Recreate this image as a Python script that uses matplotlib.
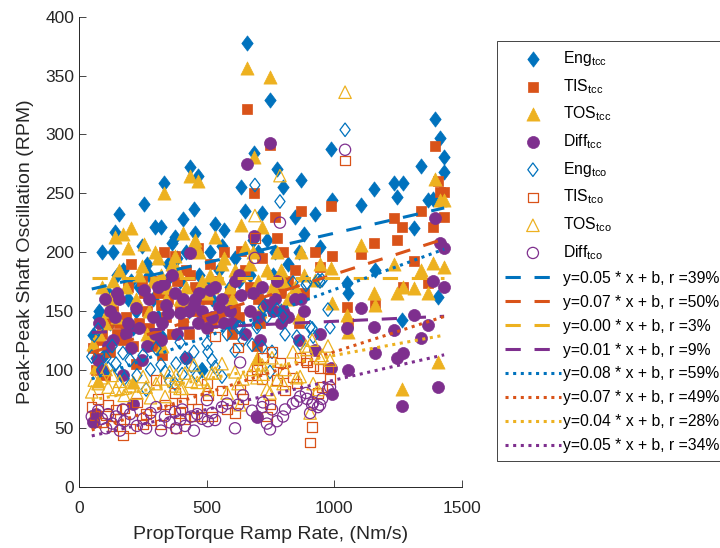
import numpy as np
import matplotlib
matplotlib.use("Agg")
import matplotlib.pyplot as plt
from matplotlib.path import Path

plt.rcParams['font.family'] = ['Liberation Sans', 'DejaVu Sans']
plt.rcParams['mathtext.fontset'] = 'custom'
plt.rcParams['mathtext.rm'] = 'Liberation Sans'
plt.rcParams['mathtext.it'] = 'Liberation Sans:italic'

# torque converter closed (tcc) tests
x_tcc = [55, 65, 75, 90, 100, 112, 133, 140, 157, 173, 190, 204, 212, 225, 245, 255,
         275, 298, 321, 325, 333, 350, 365, 376, 395, 408, 420, 435, 450, 454, 466, 482,
         500, 515, 533, 550, 568, 590, 610, 635, 650, 658, 670, 685, 697, 700, 717, 735,
         748, 768, 775, 800, 820, 845, 860, 870, 880, 925, 945, 985, 990, 1050, 1055, 1105,
         1155, 1160, 1235, 1245, 1265, 1270, 1310, 1340, 1365, 1385, 1395, 1405, 1415, 1428, 1430,
         80, 120, 150, 185, 235, 265, 290, 310, 340, 385, 430, 470, 520, 560, 600, 625,
         680, 710, 760, 790]
eng_tcc = [129, 110, 145, 200, 113, 165, 200, 217, 232, 185, 160, 175, 135, 150, 205, 241,
           180, 221, 221, 128, 259, 190, 208, 213, 175, 228, 200, 272, 237, 216, 265, 100,
           170, 200, 224, 185, 219, 170, 195, 255, 235, 378, 180, 284, 140, 200, 233, 210,
           329, 200, 271, 255, 190, 230, 200, 261, 215, 232, 204, 288, 244, 174, 165, 240,
           254, 185, 259, 247, 142, 259, 220, 273, 244, 245, 313, 162, 297, 281, 268,
           150, 140, 180, 135, 170, 190, 160, 145, 175, 195, 150, 180, 160, 205, 150, 175,
           210, 160, 180, 150]
tis_tcc = [118, 100, 110, 130, 95, 140, 150, 160, 140, 125, 170, 190, 120, 105, 175, 165,
           135, 175, 155, 112, 200, 160, 130, 197, 150, 140, 185, 180, 150, 170, 203, 145,
           160, 190, 175, 145, 200, 165, 150, 201, 185, 322, 170, 250, 120, 160, 195, 155,
           291, 230, 212, 200, 175, 185, 140, 235, 165, 200, 187, 239, 197, 153, 140, 198,
           208, 155, 229, 210, 221, 170, 192, 235, 174, 221, 290, 260, 251, 230, 251,
           125, 115, 130, 145, 140, 150, 120, 165, 145, 175, 130, 160, 140, 150, 130, 145,
           165, 140, 150, 165]
tos_tcc = [122, 102, 90, 170, 140, 150, 175, 213, 185, 215, 203, 220, 89, 160, 188, 207,
           150, 200, 180, 120, 250, 170, 190, 197, 160, 216, 170, 265, 208, 210, 260, 175,
           165, 180, 213, 178, 195, 170, 185, 223, 204, 357, 190, 281, 110, 175, 221, 185,
           349, 175, 200, 175, 160, 170, 145, 200, 180, 176, 190, 186, 157, 146, 132, 206,
           165, 155, 190, 165, 83, 170, 169, 185, 165, 191, 262, 106, 244, 244, 187,
           130, 160, 145, 170, 180, 130, 175, 195, 160, 185, 155, 200, 170, 190, 160, 180,
           200, 150, 170, 185]
diff_tcc = [55, 62, 108, 100, 160, 120, 125, 145, 160, 95, 140, 118, 71, 152, 108, 168,
            160, 130, 125, 140, 173, 148, 180, 165, 148, 160, 110, 199, 155, 160, 140, 150,
            135, 168, 170, 153, 140, 150, 175, 163, 130, 275, 150, 214, 60, 145, 170, 155,
            293, 160, 175, 150, 145, 160, 125, 160, 150, 117, 130, 101, 79, 135, 100, 152,
            136, 114, 134, 110, 69, 114, 146, 127, 138, 175, 229, 85, 208, 203, 170,
            140, 150, 165, 130, 135, 120, 145, 170, 155, 130, 150, 165, 145, 160, 140, 180,
            165, 125, 150, 140]

# torque converter open (tco) tests
x_tco = [50, 60, 75, 90, 106, 114, 130, 145, 160, 172, 177, 200, 227, 251, 263, 280,
         302, 321, 337, 355, 376, 380, 396, 404, 415, 440, 450, 463, 482, 501, 505, 521,
         533, 560, 580, 611, 623, 631, 642, 678, 689, 697, 717, 721, 736, 748, 756, 775,
         787, 799, 807, 838, 853, 866, 889, 893, 905, 913, 917, 936, 944, 952, 975, 983, 1042]
eng_tco = [111, 129, 134, 100, 110, 101, 120, 105, 98, 114, 92, 108, 95, 112, 83, 100,
           118, 104, 98, 90, 88, 105, 123, 96, 110, 103, 115, 95, 100, 122, 115, 108,
           102, 94, 130, 116, 136, 136, 125, 121, 257, 136, 119, 153, 145, 98, 115, 151,
           243, 145, 130, 174, 128, 122, 172, 174, 136, 135, 128, 176, 175, 176, 151, 136, 304]
tis_tco = [68, 61, 75, 55, 61, 70, 52, 66, 58, 44, 67, 50, 72, 53, 62, 57,
           91, 53, 70, 66, 80, 50, 63, 72, 58, 75, 60, 67, 60, 88, 78, 60,
           128, 82, 66, 63, 119, 83, 75, 95, 212, 100, 92, 110, 60, 70, 115, 91,
           106, 97, 82, 93, 88, 110, 108, 106, 38, 51, 103, 80, 101, 85, 101, 92, 278]
tos_tco = [81, 91, 88, 93, 100, 85, 95, 83, 90, 84, 78, 86, 80, 94, 85, 76,
           88, 92, 77, 98, 86, 95, 84, 84, 97, 90, 104, 89, 92, 83, 83, 97,
           97, 105, 80, 98, 88, 70, 92, 100, 231, 93, 104, 96, 83, 80, 110, 91,
           265, 88, 100, 115, 93, 94, 120, 117, 63, 125, 88, 83, 110, 112, 120, 108, 336]
diff_tco = [60, 55, 65, 58, 50, 62, 54, 60, 48, 66, 56, 62, 52, 58, 50, 63,
            68, 48, 60, 55, 64, 50, 57, 66, 52, 60, 48, 62, 58, 74, 56, 63,
            57, 68, 71, 50, 70, 106, 78, 65, 195, 60, 68, 72, 54, 49, 66, 56,
            225, 60, 66, 71, 73, 77, 80, 75, 63, 70, 72, 68, 70, 75, 83, 85, 287]

# linear fits shown in the legend
fit_slope = [0.05, 0.07, 0.00, 0.01, 0.08, 0.07, 0.04, 0.05]
fit_icpt = [166, 111, 178, 131, 88, 45, 72, 41]
fit_r = [39, 50, 3, 9, 59, 49, 28, 34]
fit_x = [50, 1430]

c_blue, c_orange, c_yellow, c_purple = '#0072BD', '#D95319', '#EDB120', '#7E2F8E'
cols = [c_blue, c_orange, c_yellow, c_purple]

diamond = Path([(0, 1), (0.75, 0), (0, -1), (-0.75, 0), (0, 1)],
               [Path.MOVETO, Path.LINETO, Path.LINETO, Path.LINETO, Path.CLOSEPOLY])

fig = plt.figure(figsize=(7.2, 5.48), dpi=100)
ax = fig.add_axes([0.1097, 0.1113, 0.5320, 0.8577])

handles = []
tcc_data = [eng_tcc, tis_tcc, tos_tcc, diff_tcc]
tco_data = [eng_tco, tis_tco, tos_tco, diff_tco]
names = ['Eng', 'TIS', 'TOS', 'Diff']
marks = [diamond, 's', '^', 'o']
s_fill = [120, 52, 90, 75]
s_open = [95, 45, 80, 65]

for i in range(4):
    h = ax.scatter(x_tcc, tcc_data[i], s=s_fill[i], marker=marks[i], color=cols[i],
                   linewidths=0.5, label=names[i] + r'$_{\mathrm{tcc}}$', zorder=2)
    handles.append(h)
for i in range(4):
    h = ax.scatter(x_tco, tco_data[i], s=s_open[i], marker=marks[i], facecolors='none',
                   edgecolors=cols[i], linewidths=0.9,
                   label=names[i] + r'$_{\mathrm{tco}}$', zorder=3)
    handles.append(h)

fx = np.array(fit_x)
for i in range(8):
    ls = (0, (5, 4.5)) if i < 4 else (0, (1, 1.5))
    lab = 'y=%.2f * x + b, r =%d%%' % (fit_slope[i], fit_r[i])
    ln, = ax.plot(fx, fit_slope[i] * fx + fit_icpt[i], color=cols[i % 4],
                  linestyle=ls, linewidth=2.2, label=lab, zorder=4)
    handles.append(ln)

ax.set_xlim(0, 1500)
ax.set_ylim(0, 400)
ax.set_xticks([0, 500, 1000, 1500])
ax.set_yticks(range(0, 401, 50))
ax.spines['top'].set_visible(False)
ax.spines['right'].set_visible(False)
for sp in ['left', 'bottom']:
    ax.spines[sp].set_color('#262626')
    ax.spines[sp].set_linewidth(0.7)
ax.tick_params(direction='in', length=5, width=0.6, colors='#262626', labelsize=12.5)
ax.tick_params(axis='x', pad=10)
ax.set_xlabel('PropTorque Ramp Rate, (Nm/s)', fontsize=14, color='#262626', labelpad=7)
ax.set_ylabel('Peak-Peak Shaft Oscillation (RPM)', fontsize=14, color='#262626', labelpad=8)

leg = fig.legend(handles=handles, loc='upper left', bbox_to_anchor=(0.69, 0.925),
                 fontsize=11.3, frameon=True, fancybox=False, framealpha=1,
                 edgecolor='#262626', handlelength=3.6, handletextpad=0.1,
                 labelspacing=0.57, borderpad=0.5, scatterpoints=1, borderaxespad=0)
leg.get_frame().set_linewidth(0.6)

plt.savefig('out.png', dpi=100)
